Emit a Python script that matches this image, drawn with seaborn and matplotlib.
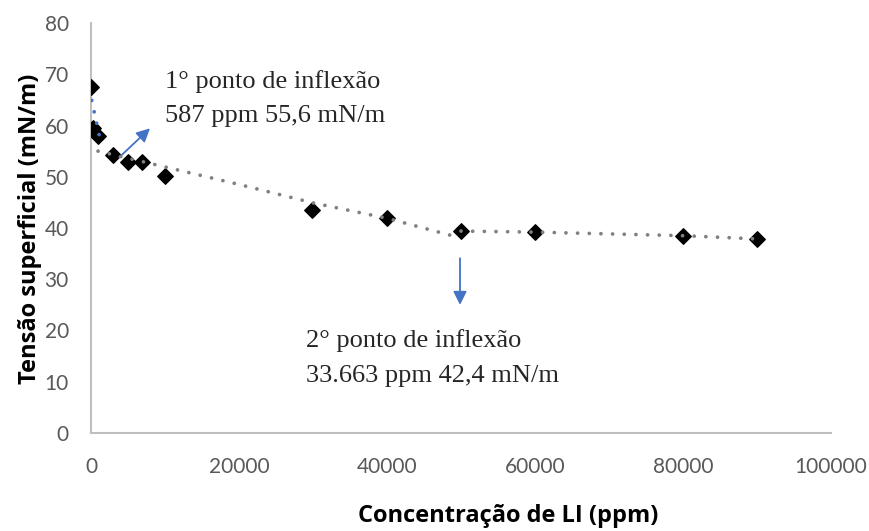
import numpy as np
import pandas as pd
import matplotlib
matplotlib.use("Agg")
import matplotlib.pyplot as plt
import seaborn as sns

# Data
conc_ppm = [0, 310, 990, 3000, 4950, 6850, 10000, 29900, 39950, 49960, 60000, 80000, 90000]
tension = [67.6, 59.5, 58.0, 54.2, 52.9, 52.9, 50.2, 43.5, 41.9, 39.5, 39.2, 38.5, 37.9]

# Trend lines
blue_trend_x = [100, 1300]
blue_trend_y = [64.9, 56.8]
gray_trend1_x = [950, 20000, 30000, 40000, 48800]
gray_trend1_y = [55.0, 48.5, 44.9, 41.9, 38.5]
gray_trend2_x = [50000, 60000, 80000, 89500]
gray_trend2_y = [39.4, 39.2, 38.5, 37.9]

x_ticks = [0, 20000, 40000, 60000, 80000, 100000]
y_ticks = [0, 10, 20, 30, 40, 50, 60, 70, 80]

sns.set_style("white")
plt.rcParams['font.family'] = ['Lato', 'DejaVu Sans']

fig = plt.figure(figsize=(8.7, 5.31), dpi=100)
ax = fig.add_axes([91/870, 1-433/531, (831-91)/870, (433-23)/531])

df = pd.DataFrame({"x": conc_ppm, "y": tension})
sns.scatterplot(data=df, x="x", y="y", marker="D", s=62, color="black",
                edgecolor="black", linewidth=1, ax=ax, zorder=3)

dot_style = (0, (0.01, 3.1))
for tx, ty, col in [(gray_trend1_x, gray_trend1_y, "#808080"),
                    (gray_trend2_x, gray_trend2_y, "#808080"),
                    (blue_trend_x, blue_trend_y, "#4472C4")]:
    sns.lineplot(x=tx, y=ty, color=col, linewidth=2.7, linestyle=dot_style,
                 dash_capstyle="round", ax=ax, zorder=4, sort=False,
                 estimator=None)

ax.set_xlim(0, 100000)
ax.set_ylim(0, 80)
ax.set_xticks(x_ticks)
ax.set_yticks(y_ticks)
ax.set_xticklabels([str(v) for v in x_ticks])
ax.set_yticklabels([str(v) for v in y_ticks])
ax.tick_params(axis="both", length=0, labelsize=15, colors="#595959")
ax.tick_params(axis="x", pad=17)
ax.tick_params(axis="y", pad=16)
for side in ["top", "right"]:
    ax.spines[side].set_visible(False)
for side in ["left", "bottom"]:
    ax.spines[side].set_color("#BFBFBF")
    ax.spines[side].set_linewidth(1.5)
ax.set_xlabel("")
ax.set_ylabel("")

label_font = ['Open Sans', 'DejaVu Sans']
fig.text(30/870, 1-229/531, "Tensão superficial (mN/m)", rotation=90, family=label_font,
         ha="center", va="center", fontsize=17, fontweight="bold", color="black")
fig.text(508/870, 1-516/531, "Concentração de LI (ppm)", family=label_font,
         ha="center", va="center", fontsize=17, fontweight="bold", color="black")

serif = ['Liberation Serif', 'DejaVu Serif']
fig.text(165/870, 1-82/531, "1° ponto de inflexão", family=serif, fontsize=19,
         ha="left", va="center")
fig.text(165/870, 1-116/531, "587 ppm 55,6 mN/m", family=serif, fontsize=19,
         ha="left", va="center")
fig.text(306/870, 1-341/531, "2° ponto de inflexão", family=serif, fontsize=19,
         ha="left", va="center")
fig.text(306/870, 1-376/531, "33.663 ppm 42,4 mN/m", family=serif, fontsize=19,
         ha="left", va="center")

arrow = dict(arrowstyle="-|>", color="#4472C4", lw=1.3, mutation_scale=20,
             shrinkA=0, shrinkB=0)
ax.annotate("", xy=(7973, 59.45), xytext=(3824, 53.8), arrowprops=arrow)
ax.annotate("", xy=(49865, 25.0), xytext=(49865, 34.1), arrowprops=arrow)

fig.savefig("out.png", dpi=100)
